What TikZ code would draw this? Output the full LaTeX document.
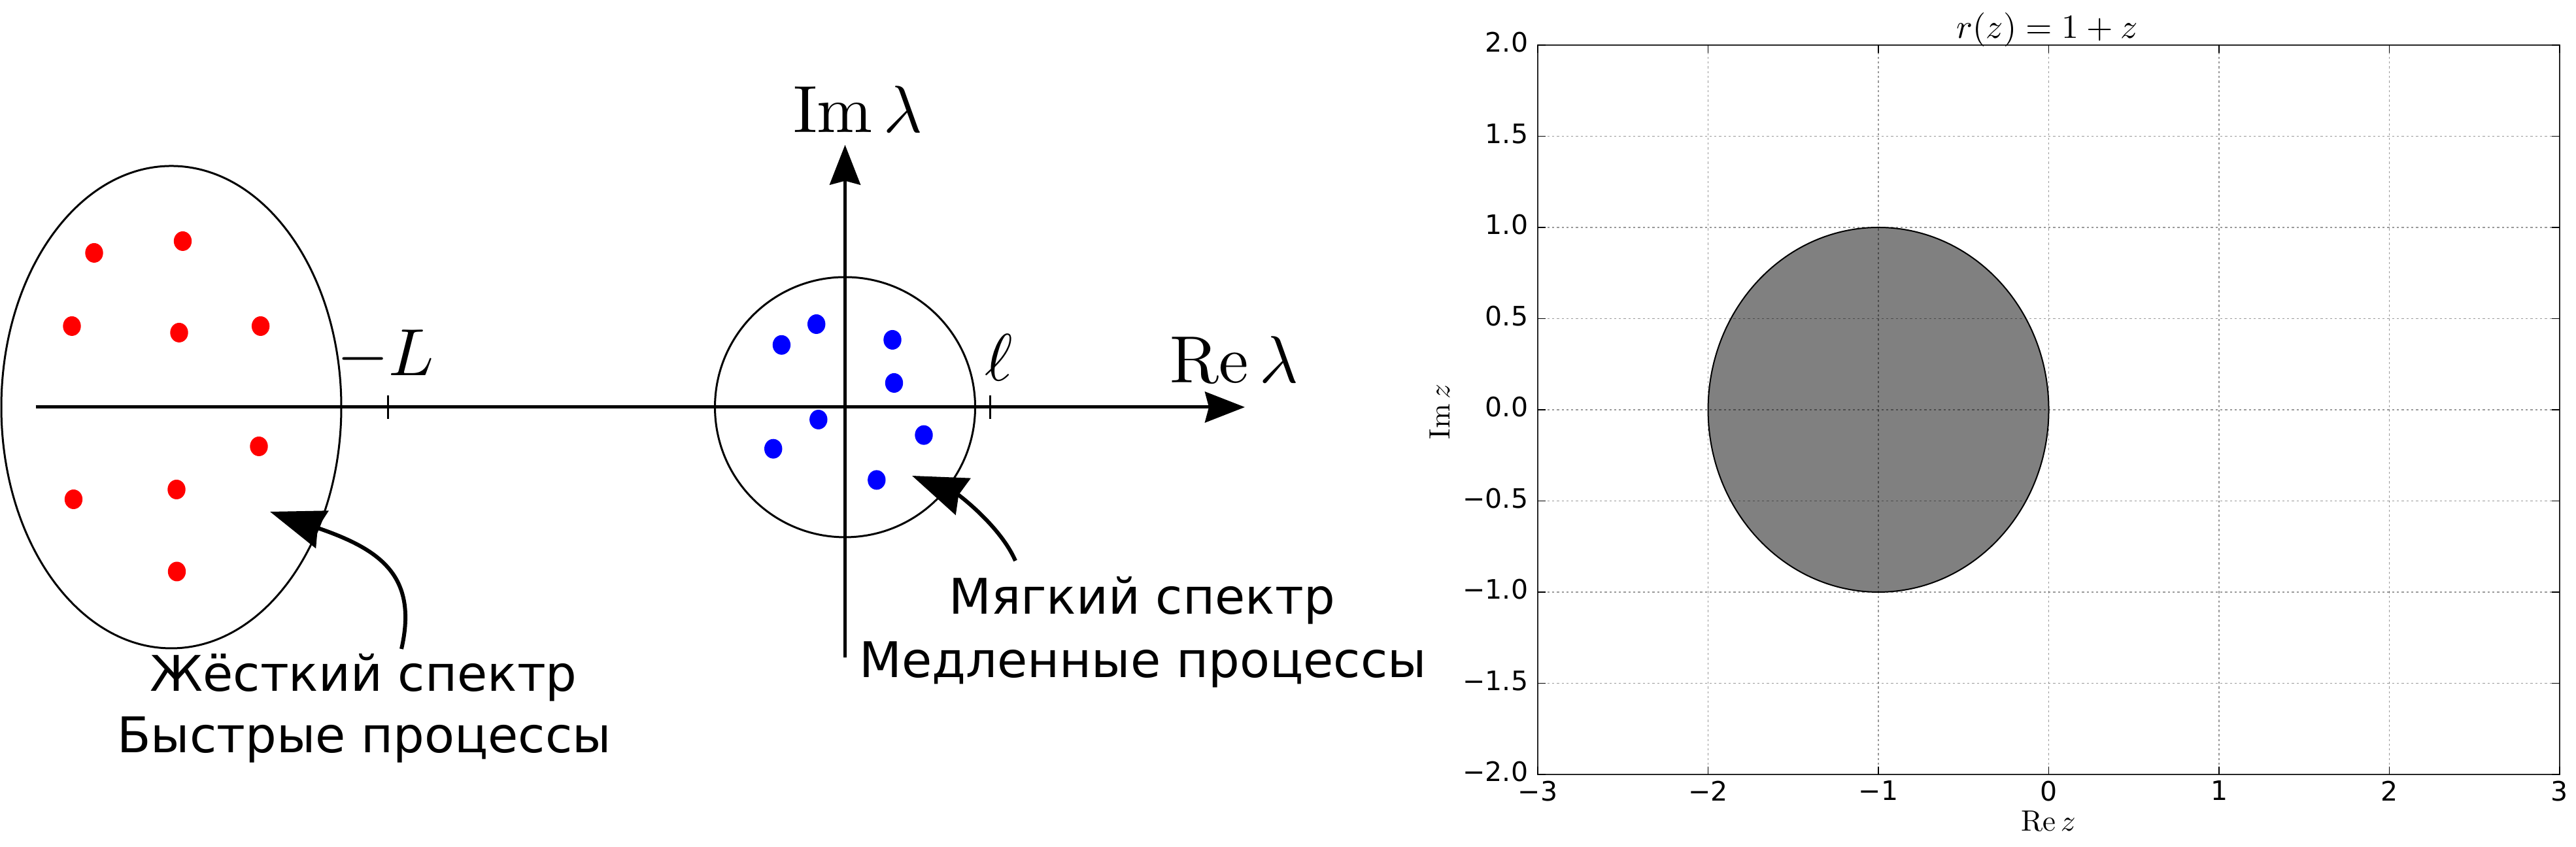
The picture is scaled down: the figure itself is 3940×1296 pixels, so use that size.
\documentclass[tikz,border=0pt]{standalone}
\usepackage{fontspec}
\usepackage{graphicx}
\newfontfamily\dejavu{DejaVu Sans}
\usetikzlibrary{arrows.meta}
\begin{document}
\begin{tikzpicture}[x=0.1pt,y=-0.1pt,
  axisline/.style={line width=0.5pt, -{Stealth[length=6.1pt,width=4.7pt,inset=0.6pt]}},
  region/.style={line width=0.3pt},
  tickmark/.style={line width=0.3pt},
  annot/.style={line width=0.6pt, -{Stealth[length=8.4pt,width=6pt,inset=0.7pt]}},
  reddot/.style={fill=red},
  bluedot/.style={fill=blue},
  mathlbl/.style={inner sep=0pt, font=\fontsize{10}{12}\selectfont},
  rutext/.style={inner sep=0pt, font=\dejavu\fontsize{7.52}{9.5}\selectfont},
  ticklbl/.style={inner sep=0pt, font=\dejavu\fontsize{4.1}{5}\selectfont},
  plotlbl/.style={inner sep=0pt, font=\fontsize{10}{12}\selectfont},
  gridline/.style={line width=0.13pt, black, opacity=0.4, dash pattern=on 0.33pt off 0.4pt},
  frameline/.style={line width=0.22pt, black!85},
  ptick/.style={line width=0.15pt, black},
  disk/.style={fill=black!50, draw=black, line width=0.2pt}
]
\useasboundingbox (0,0) rectangle (3940,1296);

% ---------- left: spectrum sketch ----------
\draw[region] (262,623) ellipse [x radius=260, y radius=369];
\draw[region] (1292.5,623) circle [radius=199];

\coordinate (xstart) at (54.5,623);
\coordinate (xend) at (1904,623);
\coordinate (ystart) at (1292.5,1006);
\coordinate (yend) at (1292.5,221.7);
\draw[axisline] (xstart) -- (xend);
\draw[axisline] (ystart) -- (yend);

\draw[tickmark] (593,605) -- (593,641);
\draw[tickmark] (1514,605) -- (1514,641);

\foreach \p in {(144,387),(279.5,369),(110,499),(274,509),(398.6,499),(396,683),(112.5,764),(270,749),(270.5,874.5)}
  \fill[reddot] \p ellipse [x radius=13.7, y radius=15];
\foreach \p in {(1248.7,496),(1195.4,527.8),(1365,520),(1367.5,586),(1251.8,642),(1182.7,686.7),(1413,665.7),(1340.8,734.4)}
  \fill[bluedot] \p ellipse [x radius=13.7, y radius=15];

\node[mathlbl, anchor=base west] (mL) at (513.5,575) {\scalebox{1.02}{$-L$}};
\node[mathlbl, anchor=base] (ell) at (1527.5,583) {\scalebox{1.02}{$\ell$}};
\node[mathlbl, anchor=base west] (re) at (1787,586) {\scalebox{1.02}{$\mathrm{Re}\,\lambda$}};
\node[mathlbl, anchor=base west] (im) at (1211,203) {\scalebox{1.02}{$\mathrm{Im}\,\lambda$}};

\node[rutext, anchor=base] (hard1) at (556,1058) {Жёсткий спектр};
\node[rutext, anchor=base] (hard2) at (557,1152) {Быстрые процессы};
\node[rutext, anchor=base] (soft1) at (1746.5,940) {Мягкий спектр};
\node[rutext, anchor=base] (soft2) at (1748,1037) {Медленные процессы};

\coordinate (hardtail) at (614,993);
\coordinate (hardtip) at (413,783);
\coordinate (softtail) at (1553,858);
\coordinate (softtip) at (1395,728);
\draw[annot] (hardtail) .. controls (640,880) and (580,840) .. (hardtip);
\draw[annot] (softtail) .. controls (1530,805) and (1466,757) .. (softtip);

% ---------- right: stability region plot ----------
\begin{scope}[shift={(3133.5,627)}, x=26.05pt, y=27.9pt]
  \draw[disk] (-1,0) circle [radius=1];
  \foreach \u in {-2,...,2} \draw[gridline] (\u,-2) -- (\u,2);
  \foreach \v in {-1.5,-1,-0.5,0,0.5,1,1.5} \draw[gridline] (-3,\v) -- (3,\v);
  \draw[frameline] (-3,-2) rectangle (3,2);
  \foreach \u in {-3,...,3} {
    \draw[ptick] (\u,-2) -- ++(0pt,1.2pt);
    \draw[ptick] (\u,2) -- ++(0pt,-1.2pt);
  }
  \foreach \v in {-2,-1.5,-1,-0.5,0,0.5,1,1.5,2} {
    \draw[ptick] (-3,\v) -- ++(1.2pt,0pt);
    \draw[ptick] (3,\v) -- ++(-1.2pt,0pt);
  }
  \foreach \v/\t [count=\i] in {2/2.0,1.5/1.5,1/1.0,0.5/0.5,0/0.0,-0.5/−0.5,-1/−1.0,-1.5/−1.5,-2/−2.0}
    \node[ticklbl, anchor=east, xshift=-1.3pt, yshift=0.4pt] (yl\i) at (-3,\v) {\t};
  \foreach \u/\t [count=\i] in {-3/−3,-2/−2,-1/−1,0/0,1/1,2/2,3/3}
    \node[ticklbl, anchor=north, yshift=-0.8pt] (xl\i) at (\u,-2) {\t};
\end{scope}

\node[plotlbl, anchor=base, rotate=90] (imz) at (2217,630) {\scalebox{0.45}{$\mathrm{Im}\,z$}};
\node[plotlbl, anchor=base] (rez) at (3133,1272) {\scalebox{0.45}{$\mathrm{Re}\,z$}};
\node[plotlbl, anchor=base] (title) at (3131,59) {\scalebox{0.52}{$r(z)=1+z$}};
\end{tikzpicture}
\end{document}
